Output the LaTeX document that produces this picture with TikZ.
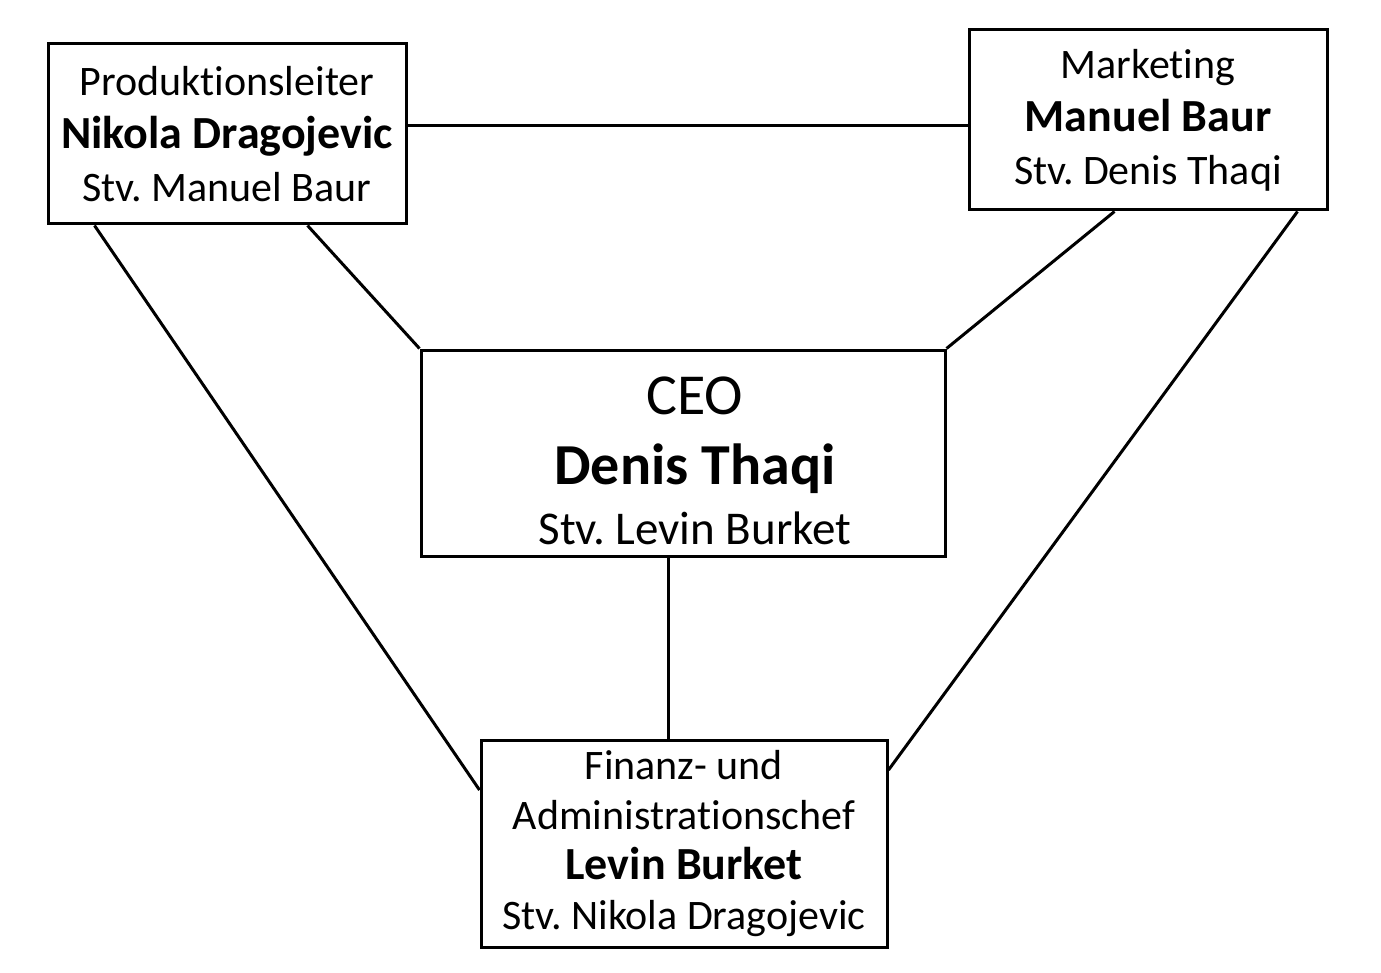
\documentclass[tikz,border=0pt]{standalone}
\usepackage{fontspec}
\setmainfont{Carlito}[Ligatures=NoCommon]
\usepackage{tikz}
\usetikzlibrary{positioning}

\tikzset{
  caixa/.style={draw, line width=1.5pt, align=center, inner sep=0pt},
  pequena/.style={caixa, minimum width=179pt, minimum height=90pt, font=\fontsize{21}{26.5}\selectfont},
  linha/.style={line width=1.5pt}
}
\newcommand{\nome}[1]{{\fontsize{23}{26.5}\selectfont\bfseries #1}}

\begin{document}
\begin{tikzpicture}[x=0.5pt, y=-0.5pt]
			\useasboundingbox (0,0) rectangle (1381,973);
			% caixas
			\node[pequena] (prod) at (227,134) {Produktionsleiter\\ \nome{Nikola Dragojevic}\\ Stv.\ Manuel Baur};
			\node[pequena] (mark) at (1148,120) {Marketing\\ \nome{Manuel Baur}\\ Stv.\ Denis Thaqi};
			\node[caixa, minimum width=262pt, minimum height=103pt,
				label={[align=center, xshift=6pt, yshift=-4pt, font=\fontsize{29}{35}\selectfont]center:{CEO\\ \textbf{Denis Thaqi}\\[-5pt] {\fontsize{23.5}{30}\selectfont Stv.\ Levin Burket}}}] (ceo) at (683,453) {};
			\node[caixa, minimum width=203pt, minimum height=103.5pt, font=\fontsize{21}{25}\selectfont] (fin) at (684,844)
				{Finanz- und\\ Administrationschef\\ \nome{Levin Burket}\\ Stv.\ Nikola Dragojevic};
			% verbindungen
			\draw[linha] ([yshift=4pt]prod.east) -- ([yshift=4pt]prod.east -| mark.west);
			\draw[linha] ([xshift=-50pt]prod.south east) -- (ceo.north west);
			\draw[linha] ([xshift=24pt]prod.south west) -- ([yshift=27pt]fin.west);
			\draw[linha] ([xshift=-107pt]mark.south east) -- (ceo.north east);
			\draw[linha] ([xshift=-15.5pt]mark.south east) -- ([yshift=37pt]fin.east);
			\draw[linha] ([xshift=-7.5pt]ceo.south) -- ([xshift=-7.5pt]ceo.south |- fin.north);
		\end{tikzpicture}
\end{document}
